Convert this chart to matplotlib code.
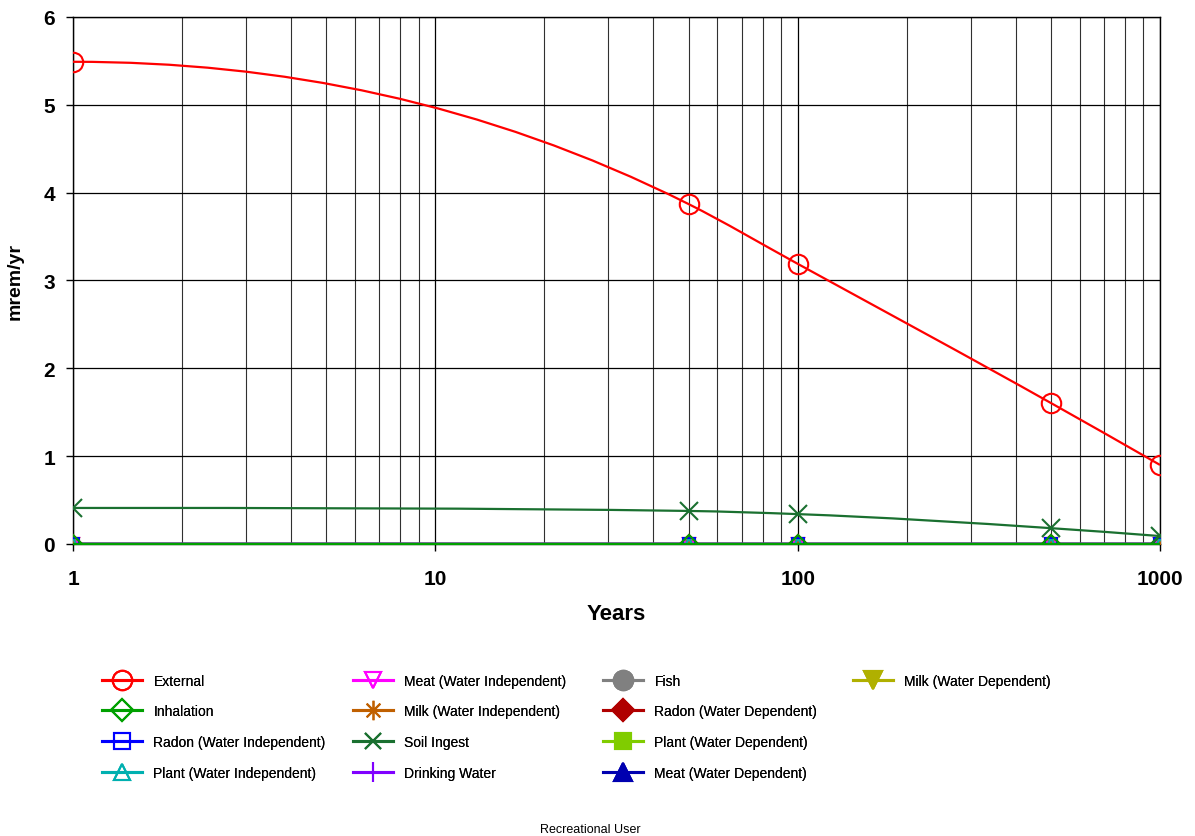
import matplotlib
matplotlib.use("Agg")
import matplotlib.pyplot as plt
import numpy as np
from matplotlib.lines import Line2D
from matplotlib.path import Path
from matplotlib.patches import PathPatch
from matplotlib.transforms import Affine2D
from matplotlib.ticker import LogLocator, NullFormatter, FixedLocator

plt.rcParams["font.family"] = ["Liberation Sans", "DejaVu Sans"]

# ---------------------------------------------------------------------------
# Data
# ---------------------------------------------------------------------------
years = [1, 50, 100, 500, 1000]

external = [5.49, 3.87, 3.19, 1.605, 0.90]
soil_ingest = [0.41, 0.376, 0.34, 0.18, 0.09]
zeros = [0, 0, 0, 0, 0]

series_names = [
    "External", "Inhalation", "Radon (Water Independent)",
    "Plant (Water Independent)", "Meat (Water Independent)",
    "Milk (Water Independent)", "Soil Ingest", "Drinking Water", "Fish",
    "Radon (Water Dependent)", "Plant (Water Dependent)",
    "Meat (Water Dependent)", "Milk (Water Dependent)",
]
series_values = [
    external, zeros, zeros, zeros, zeros, zeros, soil_ingest, zeros,
    zeros, zeros, zeros, zeros, zeros,
]

# asterisk marker (vertical bar plus an X), like the spreadsheet "star"
ASTERISK = Path([(0, -1), (0, 1), (-0.7, -0.7), (0.7, 0.7),
                 (-0.7, 0.7), (0.7, -0.7)],
                [Path.MOVETO, Path.LINETO] * 3)

# colour, marker, filled, legend marker size
STYLES = [
    ("#ff0000", "o", False, 14),
    ("#00a000", "D", False, 11),
    ("#0000ff", "s", False, 11),
    ("#00b0b0", "^", False, 12),
    ("#ff00ff", "v", False, 12),
    ("#c06000", ASTERISK, False, 14),
    ("#1a7030", "x", False, 12),
    ("#8000ff", "|", False, 15),
    ("#808080", "o", True, 14),
    ("#b00000", "D", True, 11),
    ("#80cc00", "s", True, 11),
    ("#0000b0", "^", True, 13),
    ("#b0b000", "v", True, 13),
]


def smooth_path(xs, ys):
    """Smoothed line as cubic beziers in (log10 x, y) space.
    Tangents are spacing-weighted averages of the neighbouring slopes,
    clamped so the curve does not overshoot; end tangents use
    2*slope - next tangent, set flat if it flips sign."""
    lx = np.log10(np.asarray(xs, dtype=float))
    yy = np.asarray(ys, dtype=float)
    h = np.diff(lx)
    d = np.diff(yy) / h
    n = len(lx)
    m = np.zeros(n)
    for i in range(1, n - 1):
        if d[i - 1] * d[i] <= 0:
            continue
        v = (h[i] * d[i - 1] + h[i - 1] * d[i]) / (h[i - 1] + h[i])
        lim = 3 * min(abs(d[i - 1]), abs(d[i]))
        m[i] = np.sign(v) * min(abs(v), lim)
    for end, nxt, slope in ((0, 1, d[0]), (n - 1, n - 2, d[-1])):
        v = 2 * slope - m[nxt]
        m[end] = 0.0 if v * slope < 0 else v
    verts = [(lx[0], yy[0])]
    codes = [Path.MOVETO]
    for i in range(n - 1):
        k = h[i] / 3.0
        verts += [(lx[i] + k, yy[i] + m[i] * k),
                  (lx[i + 1] - k, yy[i + 1] - m[i + 1] * k),
                  (lx[i + 1], yy[i + 1])]
        codes += [Path.CURVE4] * 3
    return Path(verts, codes)


fig = plt.figure(figsize=(11.95, 8.37), dpi=100)
ax = fig.add_axes([0.0611, 0.3489, 0.9096, 0.6296])

ax.set_xscale("log")
ax.set_xlim(1, 1000)
ax.set_ylim(0, 6)

# affine map from (log10 x, y) to axes fraction, so beziers stay smooth
lx0, lx1 = np.log10(ax.get_xlim())
y0, y1 = ax.get_ylim()
log_trans = (Affine2D().translate(-lx0, -y0)
             .scale(1.0 / (lx1 - lx0), 1.0 / (y1 - y0)) + ax.transAxes)

# grid
ax.xaxis.set_major_locator(FixedLocator([1, 10, 100, 1000]))
ax.xaxis.set_minor_locator(LogLocator(base=10, subs=np.arange(2, 10)))
ax.xaxis.set_minor_formatter(NullFormatter())
ax.set_xticklabels(["1", "10", "100", "1000"])
ax.set_yticks(range(0, 7))
ax.grid(True, which="major", axis="x", color="black", linewidth=0.9)
ax.grid(True, which="minor", axis="x", color="#303030", linewidth=0.8)
ax.grid(True, which="major", axis="y", color="black", linewidth=0.9)
ax.set_axisbelow(True)

for sp in ax.spines.values():
    sp.set_color("black")
    sp.set_linewidth(1.0)

ax.tick_params(axis="both", which="major", direction="out", length=5,
               width=1, labelsize=15, pad=8)
ax.tick_params(axis="x", which="major", pad=13)
ax.tick_params(axis="x", which="minor", length=0)
for lbl in ax.get_xticklabels() + ax.get_yticklabels():
    lbl.set_fontweight("bold")

ax.set_xlabel("Years", fontsize=16, fontweight="bold", labelpad=11)
ax.set_ylabel("mrem/yr", fontsize=14, fontweight="bold", labelpad=14)

# draw zero series first, then soil ingest and external on top
order = [12, 11, 10, 9, 8, 7, 5, 4, 3, 2, 1, 6, 0]
for i in order:
    color, marker, filled, _ = STYLES[i]
    vals = series_values[i]
    ms = 14 if i == 0 else (13 if i == 6 else 9)
    patch = PathPatch(smooth_path(years, vals), facecolor="none",
                      edgecolor=color, linewidth=1.6,
                      transform=log_trans, zorder=3)
    if i == 1:
        patch.set_clip_on(False)
        patch.set_zorder(5)
    ax.add_patch(patch)
    ax.plot(years, vals, linestyle="none", marker=marker, markersize=ms,
            markerfacecolor=color if filled else "none",
            markeredgecolor=color, markeredgewidth=1.5, zorder=4)

# legend: four columns placed individually
handles = []
for (color, marker, filled, lms), name in zip(STYLES, series_names):
    handles.append(Line2D([0], [0], color=color, linewidth=2.2, marker=marker,
                          markersize=lms,
                          markerfacecolor=color if filled else "none",
                          markeredgecolor=color, markeredgewidth=1.5,
                          label=name))

col_x = [0.0854, 0.2954, 0.5046, 0.7138]
for c in range(4):
    hs = handles[c * 4:(c + 1) * 4]
    leg = fig.legend(handles=hs, loc="upper left",
                     bbox_to_anchor=(col_x[c], 0.194),
                     frameon=False, fontsize=10, handlelength=2.9,
                     handletextpad=0.8, labelspacing=1.2, borderaxespad=0,
                     borderpad=0)
    fig.add_artist(leg)

fig.text(0.494, 0.001, "Recreational User", ha="center", va="bottom",
         fontsize=9)

fig.savefig("out.png", dpi=100)
